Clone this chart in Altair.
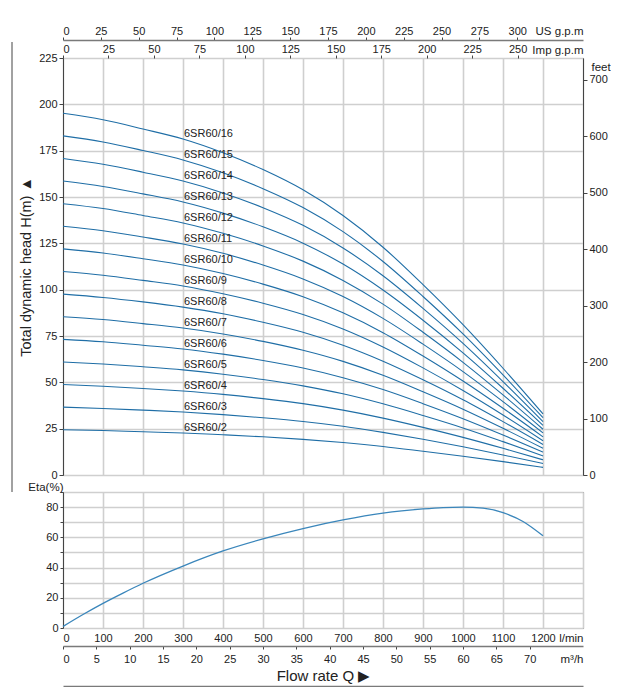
import altair as alt
import pandas as pd

# ---------------- data ----------------
FLOW_LPM = [0, 100, 200, 300, 400, 500, 600, 700, 800, 900, 1000, 1100, 1200]

head_2 = [24.4, 24.0, 23.3, 22.7, 21.7, 20.6, 19.2, 17.5, 15.4, 12.8, 10.1, 7.2, 4.1]
head_3 = [36.6, 35.9, 35.0, 34.0, 32.6, 30.9, 28.9, 26.3, 23.0, 19.3, 15.2, 10.8, 6.2]
head_4 = [48.8, 47.9, 46.7, 45.3, 43.5, 41.2, 38.5, 35.0, 30.7, 25.7, 20.3, 14.4, 8.2]
head_5 = [61.0, 59.9, 58.4, 56.7, 54.4, 51.5, 48.1, 43.8, 38.4, 32.1, 25.4, 18.0, 10.3]
head_6 = [73.2, 71.9, 70.0, 68.0, 65.2, 61.8, 57.7, 52.5, 46.1, 38.5, 30.4, 21.6, 12.4]
head_7 = [85.4, 83.9, 81.7, 79.3, 76.1, 72.1, 67.3, 61.3, 53.8, 44.9, 35.5, 25.2, 14.4]
head_8 = [97.6, 95.8, 93.4, 90.6, 87.0, 82.4, 77.0, 70.0, 61.4, 51.4, 40.6, 28.8, 16.5]
head_9 = [109.8, 107.8, 105.0, 102.0, 97.8, 92.7, 86.6, 78.8, 69.1, 57.8, 45.6, 32.4, 18.5]
head_10 = [122.0, 119.8, 116.7, 113.3, 108.7, 103.0, 96.2, 87.5, 76.8, 64.2, 50.7, 36.0, 20.6]
head_11 = [134.2, 131.8, 128.4, 124.6, 119.6, 113.3, 105.8, 96.3, 84.5, 70.6, 55.8, 39.6, 22.7]
head_12 = [146.4, 143.8, 140.0, 136.0, 130.4, 123.6, 115.4, 105.0, 92.2, 77.0, 60.8, 43.2, 24.7]
head_13 = [158.6, 155.7, 151.7, 147.3, 141.3, 133.9, 125.1, 113.8, 99.8, 83.5, 65.9, 46.8, 26.8]
head_14 = [170.8, 167.7, 163.4, 158.6, 152.2, 144.2, 134.7, 122.5, 107.5, 89.9, 71.0, 50.4, 28.8]
head_15 = [183.0, 179.7, 175.1, 170.0, 163.1, 154.5, 144.3, 131.3, 115.2, 96.3, 76.1, 54.0, 30.9]
head_16 = [195.2, 191.7, 186.7, 181.3, 173.9, 164.8, 153.9, 140.0, 122.9, 102.7, 81.1, 57.6, 33.0]

MODELS = ["6SR60/2", "6SR60/3", "6SR60/4", "6SR60/5", "6SR60/6", "6SR60/7", "6SR60/8",
          "6SR60/9", "6SR60/10", "6SR60/11", "6SR60/12", "6SR60/13", "6SR60/14",
          "6SR60/15", "6SR60/16"]
HEADS = [head_2, head_3, head_4, head_5, head_6, head_7, head_8, head_9, head_10,
         head_11, head_12, head_13, head_14, head_15, head_16]

ETA_FLOW = [0, 50, 100, 150, 200, 300, 400, 500, 600, 700, 800, 900, 950, 1000,
            1050, 1100, 1150, 1200]
ETA_PCT = [1, 8.9, 16.3, 23.1, 29.6, 41, 51, 59, 65.8, 71.5, 76, 78.8, 79.7, 80,
           79.3, 76.3, 70.5, 61]

# axis tick lists
LPM_TICKS = [0, 100, 200, 300, 400, 500, 600, 700, 800, 900, 1000, 1100, 1200, 1300]
H_TICKS = [0, 25, 50, 75, 100, 125, 150, 175, 200, 225]
FEET_TICKS = [0, 100, 200, 300, 400, 500, 600, 700]
IMP_TICKS = [0, 25, 50, 75, 100, 125, 150, 175, 200, 225, 250]
US_TICKS = [0, 25, 50, 75, 100, 125, 150, 175, 200, 225, 250, 275, 300]
M3H_TICKS = [0, 5, 10, 15, 20, 25, 30, 35, 40, 45, 50, 55, 60, 65, 70]
ETA_TICKS = [0, 10, 20, 30, 40, 50, 60, 70, 80, 90]

LPM_PER_IMP = 4.54609
LPM_PER_US = 3.78541
LPM_PER_M3H = 1000 / 60
M_PER_FT = 0.3048

# ---------------- frames ----------------
rows = []
for name, hs in zip(MODELS, HEADS):
    for q, h in zip(FLOW_LPM, hs):
        rows.append({"model": name, "Q": q, "H": h})
df_h = pd.DataFrame(rows)

LABEL_IDX = 3
df_lab = pd.DataFrame({"model": MODELS,
                       "Q": [FLOW_LPM[LABEL_IDX]] * len(MODELS),
                       "H": [hs[LABEL_IDX] for hs in HEADS]})
df_eta = pd.DataFrame({"Q": ETA_FLOW, "eta": ETA_PCT})

# ---------------- style ----------------
W = 520
H_MAIN = 417
H_ETA = 136
FONT = "Liberation Sans"
BLUE = "#1f6ea6"
BLUE2 = "#3a86bb"
GRID = "#cfcfcf"
INK = "#222222"

xs = alt.Scale(domain=[0, 1300], nice=False, zero=True)
ys = alt.Scale(domain=[0, 225], nice=False)

# ---------------- main panel ----------------
curves = alt.Chart(df_h).mark_line(color=BLUE, strokeWidth=1.1, interpolate="monotone").encode(
    x=alt.X("Q:Q", scale=xs,
            axis=alt.Axis(orient="bottom", values=LPM_TICKS, grid=True, labels=False,
                          ticks=False, domain=False, title=None,
                          gridColor=GRID, gridWidth=1.6)),
    y=alt.Y("H:Q", scale=ys,
            axis=alt.Axis(orient="left", values=H_TICKS, grid=True, gridColor=GRID,
                          gridWidth=1.6, tickSize=4, labelPadding=2,
                          title="Total dynamic head H(m) ▲", titleFontSize=14.5,
                          titlePadding=5)),
    detail="model:N",
    order="Q:Q",
)

labels = alt.Chart(df_lab).mark_text(align="left", baseline="middle", dy=-5, dx=1,
                                     font=FONT, fontSize=11, color=INK).encode(
    x=alt.X("Q:Q", scale=xs,
            axis=alt.Axis(orient="top", values=[v * LPM_PER_IMP for v in IMP_TICKS],
                          labelExpr=f"format(datum.value / {LPM_PER_IMP}, '.0f')",
                          grid=False, domain=False, tickSize=3, labelPadding=1,
                          title="Imp g.p.m", titleAngle=0, titleX=W, titleAlign="right",
                          titleY=-8, titleBaseline="middle", titleFontSize=11.5)),
    y=alt.Y("H:Q", scale=ys,
            axis=alt.Axis(orient="right", values=[v * M_PER_FT for v in FEET_TICKS],
                          labelExpr=f"format(datum.value / {M_PER_FT}, '.0f')",
                          grid=False, tickSize=4, labelPadding=2,
                          title="feet", titleAngle=0, titleAlign="left", titleX=8,
                          titleY=9, titleBaseline="middle", titleFontSize=11.5)),
    text="model:N",
)

us_axis = alt.Chart(df_h).mark_line(opacity=0).encode(
    x=alt.X("Q:Q", scale=xs,
            axis=alt.Axis(orient="top", offset=18, values=[v * LPM_PER_US for v in US_TICKS],
                          labelExpr=f"format(datum.value / {LPM_PER_US}, '.0f')",
                          grid=False, domain=True, domainColor="#7a7a7a", domainWidth=1.6,
                          tickSize=3, labelPadding=1,
                          title="US g.p.m", titleAngle=0, titleX=W, titleAlign="right",
                          titleY=-9, titleBaseline="middle", titleFontSize=11.5)),
    y=alt.Y("H:Q", scale=ys, axis=None),
    detail="model:N",
)

bracket = alt.Chart(pd.DataFrame({"a": [0]})).mark_rule(color="#444", strokeWidth=1).encode(
    x=alt.value(-51), y=alt.value(-16), y2=alt.value(434)
)

main = alt.layer(curves, labels, us_axis, bracket).resolve_axis(
    x="independent", y="independent"
).properties(width=W, height=H_MAIN)

# ---------------- efficiency panel ----------------
eta_line = alt.Chart(df_eta).mark_line(color=BLUE2, strokeWidth=1.3, interpolate="monotone").encode(
    x=alt.X("Q:Q", scale=xs,
            axis=alt.Axis(orient="bottom", values=LPM_TICKS,
                          labelExpr="datum.value > 1250 ? '' : format(datum.value, 'd')",
                          grid=True, gridColor=GRID, gridWidth=1.6, tickSize=0,
                          labelPadding=4, domain=False,
                          title="l/min", titleX=W, titleAlign="right", titleY=10,
                          titleBaseline="middle", titleFontSize=11.5)),
    y=alt.Y("eta:Q", scale=alt.Scale(domain=[0, 90], nice=False),
            axis=alt.Axis(values=ETA_TICKS,
                          labelExpr="datum.value % 20 == 0 ? datum.label : ''",
                          grid=True, gridColor=GRID, gridWidth=1.6, tickSize=3,
                          labelPadding=2,
                          title="Eta(%)", titleAngle=0, titleAlign="right", titleX=0,
                          titleY=-5, titleBaseline="middle", titleFontSize=11.5)),
)

m3h_axis = alt.Chart(df_eta).mark_line(opacity=0).encode(
    x=alt.X("Q:Q", scale=xs,
            axis=alt.Axis(orient="bottom", offset=18,
                          values=[v * LPM_PER_M3H for v in M3H_TICKS],
                          labelExpr=f"format(datum.value / {LPM_PER_M3H}, '.0f')",
                          grid=False, domain=True, domainColor="#7a7a7a", domainWidth=1.6,
                          tickSize=3, labelPadding=4,
                          title="m³/h", titleX=W, titleAlign="right", titleY=13,
                          titleBaseline="middle", titleFontSize=11.5)),
    y=alt.Y("eta:Q", axis=None),
)

flow_axis = alt.Chart(df_eta).mark_line(opacity=0).encode(
    x=alt.X("Q:Q", scale=xs,
            axis=alt.Axis(orient="bottom", offset=58, values=[0], labels=False, ticks=False,
                          grid=False, domain=True, domainColor="#7a7a7a", domainWidth=1.6,
                          title="Flow  rate Q ▶", titleY=-3, titleBaseline="bottom",
                          titleFontSize=15)),
    y=alt.Y("eta:Q", axis=None),
)

eta = alt.layer(eta_line, m3h_axis, flow_axis).resolve_axis(
    x="independent", y="independent"
).properties(width=W, height=H_ETA)

chart = alt.vconcat(main, eta, spacing=17, bounds="flush").properties(
    padding={"left": 3, "top": 16, "right": 0, "bottom": 0}
).configure_axis(
    labelFont=FONT, titleFont=FONT, labelFontSize=11, labelColor=INK, titleColor=INK,
    titleFontWeight="normal", domainColor="#444", tickColor="#444",
).configure_view(stroke="#444", strokeWidth=1)

chart.save("out.html", embed_options={"renderer": "svg", "actions": False})
